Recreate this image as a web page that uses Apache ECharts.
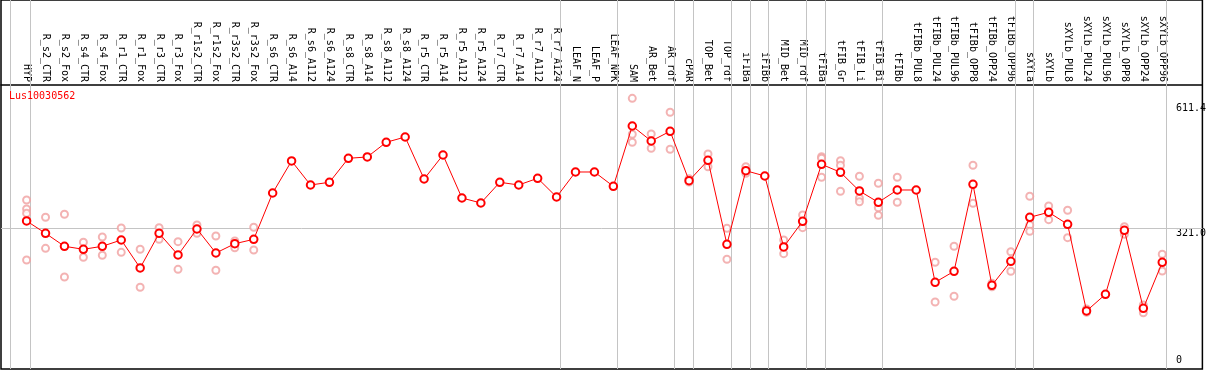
<!DOCTYPE html>
<html>
<head>
<meta charset="utf-8">
<script src="https://cdn.jsdelivr.net/npm/echarts@6/dist/echarts.min.js"></script>
<style>
  html, body { margin: 0; padding: 0; background: #fff; }
  #chart { width: 1209px; height: 370px; }
</style>
</head>
<body>
<div id="chart"></div>
<script>
const geneName = "Lus10030562";

const categories = [
    "HYP", "R_s2_CTR", "R_s2_Fox", "R_s4_CTR", "R_s4_Fox", "R_r1_CTR", "R_r1_Fox",
    "R_r3_CTR", "R_r3_Fox", "R_r1s2_CTR", "R_r1s2_Fox", "R_r3s2_CTR", "R_r3s2_Fox",
    "R_s6_CTR", "R_s6_A14", "R_s6_A112", "R_s6_A124", "R_s8_CTR", "R_s8_A14", "R_s8_A112", "R_s8_A124",
    "R_r5_CTR", "R_r5_A14", "R_r5_A112", "R_r5_A124", "R_r7_CTR", "R_r7_A14", "R_r7_A112", "R_r7_A124",
    "LEAF_N", "LEAF_P", "LEAF_NPK", "SAM", "AR_Bet", "AR_rdf", "cPAR", "TOP_Bet", "TOP_rdf",
    "iFIBa", "iFIBb", "MID_Bet", "MID_rdf", "tFIBa", "tFIB_Gr", "tFIB_Li", "tFIB_Bi", "tFIBb",
    "tFIBb_PUL8", "tFIBb_PUL24", "tFIBb_PUL96", "tFIBb_OPP8", "tFIBb_OPP24", "tFIBb_OPP96",
    "sXYLa", "sXYLb", "sXYLb_PUL8", "sXYLb_PUL24", "sXYLb_PUL96", "sXYLb_OPP8", "sXYLb_OPP24", "sXYLb_OPP96"
];

// mean expression per sample
const means = [
    337.3, 308.7, 278.5, 271.5, 278.5, 293.1, 228.1, 308.7, 258.3, 318.7, 262.9, 284.5, 294.7,
    402.3, 476.7, 420.9, 427.2, 482.9, 486.0, 520.1, 532.4,
    434.8, 490.6, 390.7, 379.1, 427.2, 420.9, 436.5, 393.0,
    451.1, 451.1, 417.9, 558.0, 523.1, 545.7, 430.9, 478.3, 283.1,
    454.1, 441.8, 276.9, 336.6, 469.0, 450.4, 407.0, 380.7, 409.3,
    409.3, 194.8, 220.4, 422.5, 187.9, 243.6,
    345.9, 357.5, 329.6, 128.2, 167.0, 315.7, 134.4, 241.3
];

// individual replicates: [sample index, value]
const replicates = [
    [0, 386.1], [0, 365.1], [0, 355.2], [0, 246.7],
    [1, 345.9], [1, 273.8],
    [2, 352.8], [2, 207.2],
    [3, 287.8], [3, 252.9],
    [4, 300.1], [4, 257.6],
    [5, 321.0], [5, 264.5],
    [6, 271.5], [6, 183.2],
    [7, 321.7], [7, 294.7],
    [8, 289.2], [8, 225.0],
    [9, 328.0], [9, 308.7],
    [10, 302.4], [10, 222.7],
    [11, 290.8], [11, 275.2],
    [12, 322.6], [12, 269.9],
    [32, 622.3], [32, 538.7], [32, 520.1],
    [33, 539.4], [33, 506.2],
    [34, 589.8], [34, 503.9],
    [35, 435.5], [35, 427.9],
    [36, 492.9], [36, 463.4],
    [37, 320.3], [37, 248.3],
    [38, 463.4], [38, 448.1],
    [40, 293.1], [40, 261.3],
    [41, 351.2], [41, 321.7],
    [42, 486.7], [42, 482.9], [42, 438.8],
    [43, 477.4], [43, 466.7], [43, 406.3],
    [44, 441.1], [44, 390.0], [44, 382.1],
    [45, 424.9], [45, 368.2], [45, 350.5],
    [46, 438.8], [46, 380.7],
    [48, 241.3], [48, 149.1],
    [49, 278.5], [49, 162.3],
    [50, 466.7], [50, 378.4],
    [51, 192.5], [51, 184.6],
    [52, 265.9], [52, 220.4],
    [53, 394.7], [53, 328.0], [53, 313.3],
    [54, 372.1], [54, 340.3],
    [55, 362.1], [55, 298.5],
    [56, 132.8], [56, 125.1],
    [58, 324.0], [58, 306.4],
    [59, 142.1], [59, 124.2],
    [60, 259.9], [60, 221.1]
];

// last sample of each group (a separator is drawn after it)
const groupEnds = [-1, 0, 28, 31, 34, 35, 37, 38, 39, 41, 42, 45, 52, 53, 60];
const yTicks = [0, 321.0, 611.4];
const midLine = 321.0;

const MONO = "'DejaVu Sans Mono', monospace";

const chart = echarts.init(document.getElementById("chart"), null, { renderer: "canvas" });

const sepLines = groupEnds.map(g => ({ xAxis: g + (g < 0 ? 0.16 : 0.21) }));
sepLines.push({ yAxis: midLine });

chart.setOption({
    animation: false,
    backgroundColor: "#fff",
    title: {
        text: geneName,
        left: 9,
        top: 91,
        padding: 0,
        textStyle: { color: "#ff0000", fontFamily: MONO, fontSize: 10, fontWeight: "normal" }
    },
    grid: {
        left: 1,
        right: 2,
        top: 0,
        bottom: 1,
        show: true,
        borderColor: "#000",
        borderWidth: 1.5,
        backgroundColor: "transparent"
    },
    xAxis: {
        type: "value",
        position: "top",
        offset: -85,
        min: -1.3526,
        max: 62.121,
        axisLine: { show: true, onZero: false, lineStyle: { color: "#000", width: 1.5 } },
        axisTick: { show: false },
        splitLine: { show: false },
        axisLabel: {
            customValues: categories.map((c, i) => i),
            formatter: v => categories[v] || "",
            rotate: 90,
            margin: 3,
            color: "#000",
            fontFamily: MONO,
            fontSize: 10,
            hideOverlap: false
        }
    },
    yAxis: {
        type: "value",
        position: "right",
        offset: -29,
        min: -6.6,
        max: 850.7,
        axisLine: { show: false },
        axisTick: { show: false },
        splitLine: { show: false },
        axisLabel: {
            customValues: yTicks,
            inside: false,
            margin: 2.5,
            align: "left",
            color: "#000",
            fontFamily: MONO,
            fontSize: 10,
            formatter: v => v === 0 ? "{b|0}" : "{t|" + v.toFixed(1) + "}",
            rich: {
                t: { padding: [11, 0, 0, 0], fontFamily: MONO, fontSize: 10, color: "#000" },
                b: { padding: [0, 0, 11, 0], fontFamily: MONO, fontSize: 10, color: "#000" }
            }
        }
    },
    series: [
        {
            name: "replicates",
            type: "scatter",
            data: replicates,
            symbol: "emptyCircle",
            symbolSize: 7,
            itemStyle: { color: "#f0a0a0", borderColor: "#f0a0a0", borderWidth: 1.1 },
            z: 2,
            silent: true
        },
        {
            name: "mean",
            type: "line",
            data: means.map((v, i) => [i, v]),
            symbol: "emptyCircle",
            symbolSize: 7.5,
            showSymbol: true,
            lineStyle: { color: "#ff0000", width: 1 },
            itemStyle: { color: "#ff0000", borderColor: "#ff0000", borderWidth: 1.3 },
            z: 3,
            silent: true,
            markLine: {
                silent: true,
                symbol: "none",
                label: { show: false },
                lineStyle: { color: "#c4c4c4", width: 1, type: "solid" },
                data: sepLines,
                z: 1
            }
        }
    ]
});
</script>
</body>
</html>
